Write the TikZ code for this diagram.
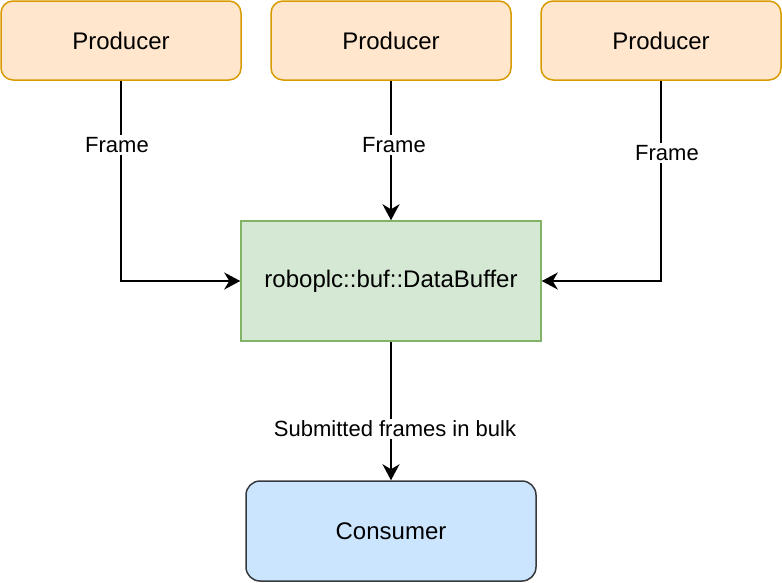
\documentclass[tikz,border=0pt]{standalone}
\usepackage{fontspec}
\setmainfont{Liberation Sans}
\usetikzlibrary{arrows.meta}
\definecolor{prodfill}{HTML}{FFE6CC}
\definecolor{proddraw}{HTML}{D79B00}
\definecolor{buffill}{HTML}{D5E8D4}
\definecolor{bufdraw}{HTML}{82B366}
\definecolor{consfill}{HTML}{CCE5FF}
\definecolor{consdraw}{HTML}{36393D}
\tikzset{
  box/.style={draw, line width=1.5pt, inner sep=0pt, font=\fontsize{24}{28}\selectfont},
  prodbox/.style={box, fill=prodfill, draw=proddraw, rounded corners=12pt, minimum width=240pt, minimum height=79pt},
  bufbox/.style={box, fill=buffill, draw=bufdraw, minimum width=300pt, minimum height=120pt},
  consbox/.style={box, fill=consfill, draw=consdraw, rounded corners=14pt, minimum width=290pt, minimum height=100pt},
  conn/.style={line width=2pt, -{Stealth[length=16pt,width=17pt,inset=5pt]}},
  lbl/.style={fill=white, inner sep=2pt, font=\fontsize{22}{26}\selectfont}
}
\begin{document}
\begin{tikzpicture}[x=1pt,y=-1pt]
\useasboundingbox (0,0) rectangle (782,582);
\node[prodbox] (p1) at (121,40.5) {Producer};
\node[prodbox] (p2) at (391,40.5) {Producer};
\node[prodbox] (p3) at (661,40.5) {Producer};
\node[bufbox] (buf) at (391,281) {roboplc::buf::DataBuffer};
\node[consbox] (cons) at (391,531) {Consumer};
\draw[conn] (p1.south) |- (buf.west);
\draw[conn] (p2.south) -- (buf.north);
\draw[conn] (p3.south) |- (buf.east);
\draw[conn] (buf.south) -- (cons.north);
\node[lbl] (l1) at (117,145) {Frame};
\node[lbl] (l2) at (394,145) {Frame};
\node[lbl] (l3) at (667,153) {Frame};
\node[lbl] (l4) at (395,429) {Submitted frames in bulk};
\end{tikzpicture}
\end{document}
